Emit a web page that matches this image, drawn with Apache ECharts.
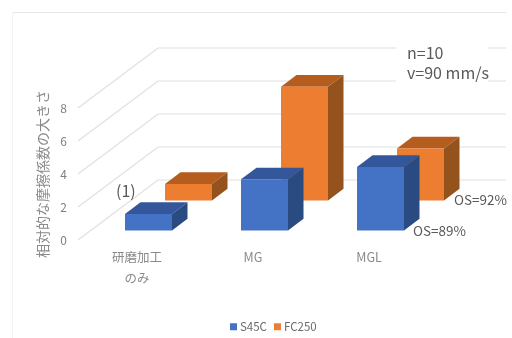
<!DOCTYPE html>
<html><head><meta charset="utf-8">
<style>html,body{margin:0;padding:0;background:#fff}#c{width:512px;height:338px}</style>
<script src="https://cdn.jsdelivr.net/npm/echarts@6/dist/echarts.min.js"></script>
</head><body><div id="c"></div>
<script>
const categories = ['研磨加工\nのみ', 'MG', 'MGL'];
const s45c = [1, 3.1, 3.85];
const fc250 = [1, 6.9, 3.15];
const gridValues = [0, 2, 4, 6, 8];
const FONT = '"Noto Sans CJK JP","Noto Sans",sans-serif';
const depth = [15.5, -11.7], barW = 47;

function box(front, top, side, ox, oy) {
  return function (params, api) {
    const base = api.coord([api.value(0), 0]);
    const head = api.coord([api.value(0), api.value(1)]);
    const x0 = base[0] + ox - barW / 2, x1 = x0 + barW;
    const yb = base[1] + oy, yt = head[1] + oy;
    const [dx, dy] = depth;
    return { type: 'group', children: [
      { type: 'polygon', shape: { points: [[x0, yt], [x1, yt], [x1 + dx, yt + dy], [x0 + dx, yt + dy]] }, style: { fill: top } },
      { type: 'polygon', shape: { points: [[x1, yt], [x1 + dx, yt + dy], [x1 + dx, yb + dy], [x1, yb]] }, style: { fill: side } },
      { type: 'rect', shape: { x: x0, y: yt, width: barW, height: yb - yt }, style: { fill: front } }
    ] };
  };
}
function wallLine(params, api) {
  const p = api.coord([0, api.value(0)]);
  const x = params.coordSys.x - 1;
  return { type: 'polyline', shape: { points: [[x, p[1]], [x + 80, p[1] - 60], [506, p[1] - 60]] },
    style: { fill: 'none', stroke: '#e0e0e0', lineWidth: 1.2 } };
}
function note(text, x, y, size, extra) {
  return { type: 'text', x, y, z: 60, style: Object.assign({ text, fill: '#595959', font: size + 'px ' + FONT, textVerticalAlign: 'middle' }, extra || {}) };
}
const chart = echarts.init(document.getElementById('c'), null, { renderer: 'canvas' });
chart.setOption({
  animation: false,
  backgroundColor: '#fff',
  grid: { left: 79, top: 108, width: 348, height: 132 },
  legend: { data: ['S45C', 'FC250'], left: 225, top: 316, icon: 'rect', itemWidth: 7, itemHeight: 7, itemGap: 7,
    textStyle: { color: '#6b6b6b', fontSize: 11.5, fontFamily: FONT, padding: [0, 0, 0, -2] } },
  xAxis: { type: 'category', data: categories, axisLine: { show: false }, axisTick: { show: false }, splitLine: { show: false },
    axisLabel: { color: '#8a8a8a', fontSize: 12.5, lineHeight: 21, margin: 7, fontFamily: FONT } },
  yAxis: { type: 'value', min: 0, max: 8, interval: 2, name: '相対的な摩擦係数の大きさ', nameLocation: 'middle', nameGap: 25,
    nameTextStyle: { color: '#8a8a8a', fontSize: 14, fontFamily: FONT },
    axisLine: { show: false }, axisTick: { show: false }, splitLine: { show: false },
    axisLabel: { color: '#7f7f7f', fontSize: 12, margin: 12, fontFamily: FONT } },
  series: [
    { type: 'custom', name: 'wall', silent: true, z: 1, encode: { y: 0 }, data: gridValues.map(v => [v]), renderItem: wallLine },
    { type: 'custom', name: 'FC250', z: 3, itemStyle: { color: '#ED7D31' }, encode: { x: 0, y: 1 },
      data: fc250.map((v, i) => [i, v]), renderItem: box('#ED7D31', '#B55D1F', '#94521C', 51.5, -39.5) },
    { type: 'custom', name: 'S45C', z: 4, itemStyle: { color: '#4472C4' }, encode: { x: 0, y: 1 },
      data: s45c.map((v, i) => [i, v]), renderItem: box('#4472C4', '#33579A', '#2A4A82', 11.5, -9.5) }
  ],
  graphic: [
    { type: 'line', shape: { x1: 12, y1: 12.5, x2: 506, y2: 12.5 }, style: { stroke: '#e6e6e6', lineWidth: 1 }, z: 0 },
    { type: 'line', shape: { x1: 12.5, y1: 12, x2: 12.5, y2: 338 }, style: { stroke: '#f3f3f3', lineWidth: 1 }, z: 0 },
    { type: 'rect', shape: { x: 396, y: 40, width: 92, height: 45 }, style: { fill: '#fff' }, z: 50 },
    note('n=10', 407, 53, 16),
    note('v=90 mm/s', 407, 73, 16),
    note('(1)', 116, 191, 16),
    note('OS=92%', 454, 200, 13.5),
    note('OS=89%', 413, 231, 13.5)
  ]
});
</script></body></html>
